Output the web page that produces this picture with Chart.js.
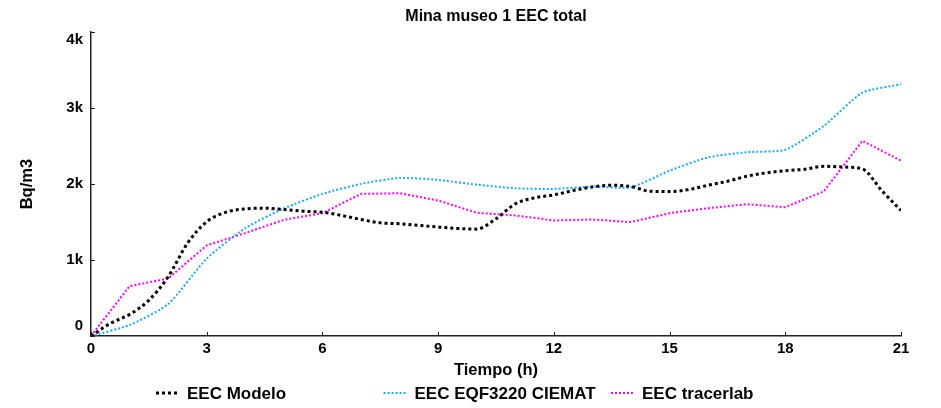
<!DOCTYPE html>
<html>
<head>
<meta charset="utf-8">
<script src="https://cdn.jsdelivr.net/npm/chart.js@4/dist/chart.umd.min.js"></script>
<style>
  html, body { margin: 0; padding: 0; background: #fff; }
  #wrap { width: 941px; height: 408px; position: relative; }
</style>
</head>
<body>
<div id="wrap"><canvas id="idChartEEC"></canvas></div>
<script>
// Modelo: half-hour steps, the instruments: one value per hour
const modelo_hours = [0, 0.5, 1, 1.5, 2, 2.5, 3, 3.5, 4, 4.5, 5, 5.5, 6, 6.5, 7, 7.5, 8, 8.5, 9, 9.5, 10,
                      10.5, 11, 11.5, 12, 12.5, 13, 13.5, 14, 14.5, 15, 15.5, 16, 16.5, 17, 17.5, 18, 18.5, 19, 19.5, 20, 20.5, 21];
const modelo_values = [0, 166, 284, 470, 780, 1220, 1505, 1630, 1674, 1683, 1665, 1643, 1630, 1587, 1534, 1490, 1478, 1456, 1434, 1416, 1407,
                       1544, 1740, 1819, 1858, 1915, 1963, 1985, 1967, 1906, 1902, 1928, 1985, 2037, 2103, 2147, 2177, 2195, 2234, 2225, 2199, 1915, 1652];

const hours = [0, 1, 2, 3, 4, 5, 6, 7, 8, 9, 10, 11, 12, 13, 14, 15, 16, 17, 18, 19, 20, 21];
const ciemat_values = [0, 144, 420, 1020, 1420, 1680, 1871, 2003, 2081, 2055, 1993, 1945, 1937, 1967, 1958, 2177, 2352, 2420, 2452, 2767, 3204, 3314];
const tracerlab_values = [0, 656, 757, 1193, 1355, 1530, 1617, 1871, 1880, 1784, 1622, 1587, 1521, 1534, 1500, 1617, 1683, 1735, 1696, 1906, 2570, 2308];

const series_labels = ['EEC Modelo', 'EEC EQF3220 CIEMAT', 'EEC tracerlab'];
const x_ticks = [0, 3, 6, 9, 12, 15, 18, 21];
const y_ticks = [0, 1000, 2000, 3000, 4000];

const FONT = '"Liberation Sans", Arial, sans-serif';
const AXIS_COLOR = '#222';

function toPoints(xs, ys) {
    return xs.map((x, i) => ({ x: x, y: ys[i] }));
}

// small tick marks pointing into the plot
const tickMarks = {
    id: 'tickMarks',
    afterDatasetsDraw(chart) {
        const { ctx, chartArea, scales } = chart;
        ctx.save();
        ctx.strokeStyle = AXIS_COLOR;
        ctx.lineWidth = 1;
        ctx.beginPath();
        for (const v of x_ticks) {
            const px = Math.round(scales.x.getPixelForValue(v)) + 0.5;
            ctx.moveTo(px, chartArea.bottom);
            ctx.lineTo(px, chartArea.bottom - 4);
        }
        for (const v of y_ticks) {
            const py = Math.round(scales.y.getPixelForValue(v)) + 0.5;
            ctx.moveTo(chartArea.left, py);
            ctx.lineTo(chartArea.left + 4, py);
        }
        ctx.stroke();
        ctx.restore();
    }
};

// y labels, the end ones kept inside the axis span
const yLabels = {
    id: 'yLabels',
    afterDraw(chart) {
        const { ctx, chartArea } = chart;
        const sy = chart.scales.y;
        ctx.save();
        ctx.font = 'bold 15px ' + FONT;
        ctx.fillStyle = '#000';
        ctx.textAlign = 'right';
        ctx.textBaseline = 'middle';
        sy.ticks.forEach((t) => {
            let py = sy.getPixelForValue(t.value);
            py = Math.min(Math.max(py, chartArea.top + 8), chartArea.bottom - 10);
            ctx.fillText(t.label, chartArea.left - 8, py);
        });
        ctx.restore();
    }
};

// legend in fixed-width columns under the axis title
const columnLegend = {
    id: 'columnLegend',
    afterDraw(chart, args, opts) {
        const ctx = chart.ctx;
        ctx.save();
        ctx.font = 'bold 17px ' + FONT;
        ctx.textBaseline = 'middle';
        ctx.fillStyle = '#000';
        chart.data.datasets.forEach((ds, i) => {
            const x0 = opts.left + i * opts.step;
            ctx.beginPath();
            ctx.strokeStyle = ds.borderColor;
            ctx.lineWidth = ds.borderWidth;
            ctx.setLineDash(ds.borderDash);
            ctx.moveTo(x0, opts.y);
            ctx.lineTo(x0 + opts.sample, opts.y);
            ctx.stroke();
            ctx.setLineDash([]);
            ctx.fillText(ds.label, x0 + opts.sample + 7, opts.y + 1);
        });
        ctx.restore();
    }
};

const data_eec = {
    datasets: [
        {
            label: series_labels[0],
            data: toPoints(modelo_hours, modelo_values),
            borderColor: '#000000',
            borderWidth: 3,
            borderDash: [3, 3],
            cubicInterpolationMode: 'monotone',
            pointRadius: 0,
            fill: false
        },
        {
            label: series_labels[1],
            data: toPoints(hours, ciemat_values),
            borderColor: 'rgb(30, 170, 240)',
            borderWidth: 2,
            borderDash: [2, 2],
            tension: 0.2,
            pointRadius: 0,
            fill: false
        },
        {
            label: series_labels[2],
            data: toPoints(hours, tracerlab_values),
            borderColor: 'rgb(255, 0, 255)',
            borderWidth: 2,
            borderDash: [2, 2],
            tension: 0,
            pointRadius: 0,
            fill: false
        }
    ]
};

const options_eec = {
    responsive: true,
    maintainAspectRatio: false,
    animation: false,
    layout: { padding: { left: 0, right: 40, top: 0, bottom: 28 } },
    scales: {
        x: {
            type: 'linear',
            min: 0,
            max: 21,
            afterBuildTicks: (scale) => { scale.ticks = x_ticks.map(v => ({ value: v })); },
            afterFit: (scale) => { scale.height = 44; },
            grid: { display: false, drawTicks: false },
            border: { display: true, color: AXIS_COLOR, width: 1.5 },
            ticks: {
                padding: 4,
                color: '#000',
                font: { family: FONT, size: 15, weight: 'bold' }
            },
            title: {
                display: true,
                text: 'Tiempo (h)',
                color: '#000',
                padding: { top: 0, bottom: 0 },
                font: { family: FONT, size: 16.5, weight: 'bold' }
            }
        },
        y: {
            min: 0,
            max: 4000,
            afterBuildTicks: (scale) => { scale.ticks = y_ticks.map(v => ({ value: v })); },
            afterFit: (scale) => { scale.width = 91; },
            grid: { display: false, drawTicks: false },
            border: { display: true, color: AXIS_COLOR, width: 1.5 },
            ticks: {
                padding: 8,
                color: 'rgba(0, 0, 0, 0)',   // drawn by yLabels
                font: { family: FONT, size: 15, weight: 'bold' },
                callback: (v) => (v === 0 ? '0' : (v / 1000) + 'k')
            },
            title: {
                display: true,
                text: 'Bq/m3',
                color: '#000',
                padding: { top: 18, bottom: 0 },
                font: { family: FONT, size: 16.5, weight: 'bold' }
            }
        }
    },
    plugins: {
        legend: { display: false },
        tooltip: { enabled: false },
        title: {
            display: true,
            fullSize: false,
            text: 'Mina museo 1 EEC total',
            color: '#000',
            padding: { top: 7, bottom: 6 },
            font: { family: FONT, size: 16, weight: 'bold' }
        },
        columnLegend: { left: 156, step: 227.5, y: 393, sample: 24 }
    }
};

const ctx1 = document.getElementById('idChartEEC').getContext('2d');
const chartEEC = new Chart(ctx1, {
    type: 'line',
    data: data_eec,
    options: options_eec,
    plugins: [tickMarks, yLabels, columnLegend]
});
</script>
</body>
</html>
